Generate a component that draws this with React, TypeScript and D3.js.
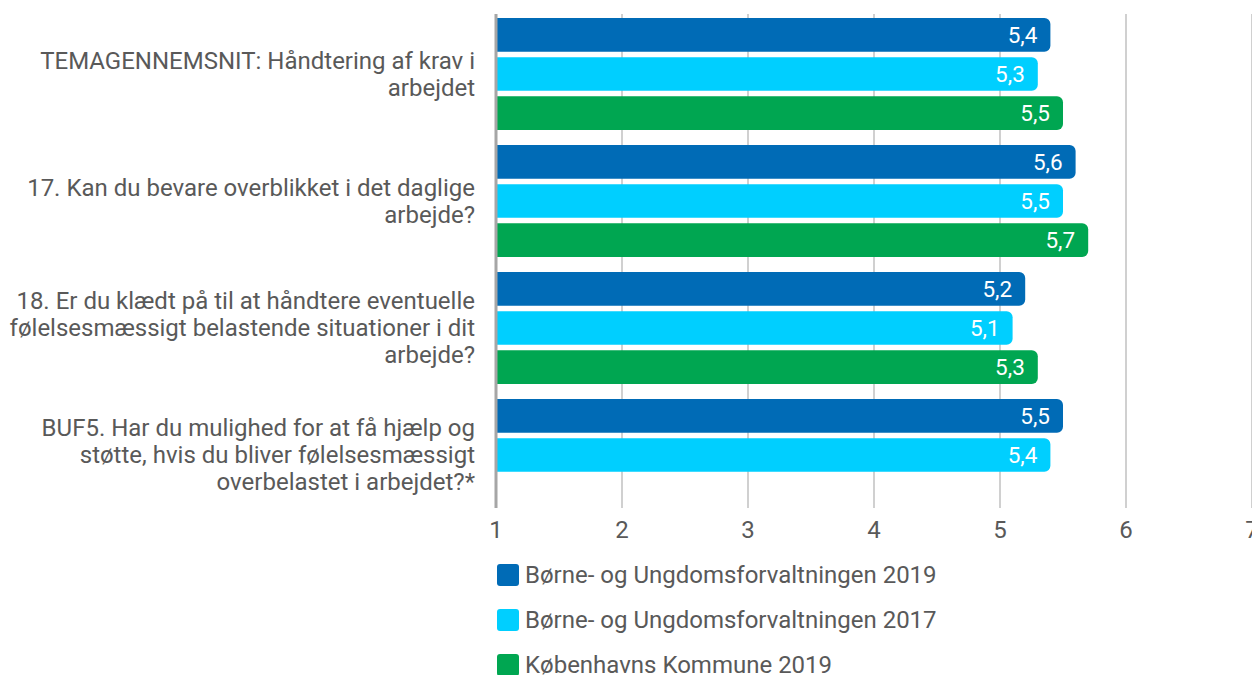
import React from 'react';
import * as d3 from 'd3';

// spørgsmål (kategorier), hver linje for sig
const questions = [
  ['TEMAGENNEMSNIT: Håndtering af krav i', 'arbejdet'],
  ['17. Kan du bevare overblikket i det daglige', 'arbejde?'],
  ['18. Er du klædt på til at håndtere eventuelle', 'følelsesmæssigt belastende situationer i dit', 'arbejde?'],
  ['BUF5. Har du mulighed for at få hjælp og', 'støtte, hvis du bliver følelsesmæssigt', 'overbelastet i arbejdet?*'],
];

const seriesNames = [
  'Børne- og Ungdomsforvaltningen 2019',
  'Børne- og Ungdomsforvaltningen 2017',
  'Københavns Kommune 2019',
];
const seriesColors = ['#006bb6', '#00cfff', '#00a651'];

const buf2019 = [5.4, 5.6, 5.2, 5.5];
const buf2017 = [5.3, 5.5, 5.1, 5.4];
const kk2019: (number | null)[] = [5.5, 5.7, 5.3, null];

const ticks = [1, 2, 3, 4, 5, 6, 7];

const W = 1252;
const H = 675;
const textColor = '#595959';
const font = 'Roboto, sans-serif';

export default function App() {
  const x = d3.scaleLinear().domain([1, 7]).range([496, 1252]);
  const groupKeys = questions.map((_, i) => String(i));
  const y = d3.scaleBand().domain(groupKeys).range([14, 522]);
  const inner = d3.scaleBand().domain(['0', '1', '2']).range([4, 116]).paddingInner(0.14);
  const values = [buf2019, buf2017, kk2019];

  const barPath = (x0: number, x1: number, y0: number, h: number, r: number) => {
    const p = d3.path();
    p.moveTo(x0, y0);
    p.lineTo(x1 - r, y0);
    p.arcTo(x1, y0, x1, y0 + r, r);
    p.lineTo(x1, y0 + h - r);
    p.arcTo(x1, y0 + h, x1 - r, y0 + h, r);
    p.lineTo(x0, y0 + h);
    p.closePath();
    return p.toString();
  };

  const gridTop = 14;
  const gridBottom = 508;
  const lineH = 27;

  return (
    <svg
      width={W}
      height={H}
      style={{ position: 'absolute', left: 0, top: 0, fontFamily: font }}
    >
      {/* gitterlinjer */}
      {ticks.slice(1).map((t) => (
        <line key={t} x1={x(t)} x2={x(t)} y1={gridTop} y2={gridBottom} stroke="#c0c0c0" strokeWidth={1.5} />
      ))}

      {/* søjler */}
      {groupKeys.map((g, gi) =>
        values.map((arr, si) => {
          const v = arr[gi];
          if (v == null) return null;
          const y0 = (y(g) as number) + (inner(String(si)) as number);
          const h = inner.bandwidth();
          const x1 = x(v);
          return (
            <g key={g + '-' + si}>
              <path d={barPath(x(1), x1, y0, h, 6)} fill={seriesColors[si]} />
              <text
                x={x1 - 13}
                y={y0 + h / 2}
                dy="0.35em"
                textAnchor="end"
                fill="#ffffff"
                fontSize={22.5}
              >
                {String(v).replace('.', ',')}
              </text>
            </g>
          );
        })
      )}

      {/* akse */}
      <line x1={x(1)} x2={x(1)} y1={gridTop} y2={gridBottom} stroke="#a6a6a6" strokeWidth={3} />

      {/* kategorietiketter */}
      {questions.map((lines, gi) => {
        const first = (y(String(gi)) as number) + inner(String(0))! ;
        const last = (y(String(gi)) as number) + inner(String(2))! + inner.bandwidth();
        const cy = (first + last) / 2;
        const start = cy - ((lines.length - 1) * lineH) / 2;
        return (
          <text key={gi} textAnchor="end" fill={textColor} fontSize={24}>
            {lines.map((l, li) => (
              <tspan key={li} x={475} y={start + li * lineH} dy="0.35em">
                {l}
              </tspan>
            ))}
          </text>
        );
      })}

      {/* x-akse etiketter */}
      {ticks.map((t) => (
        <text key={t} x={x(t)} y={530} dy="0.35em" textAnchor="middle" fill={textColor} fontSize={24}>
          {t}
        </text>
      ))}

      {/* forklaring */}
      {seriesNames.map((name, i) => {
        const cy = 575 + i * 45;
        return (
          <g key={name}>
            <rect x={497} y={cy - 11} width={22} height={22} rx={3} fill={seriesColors[i]} />
            <text x={525} y={cy} dy="0.35em" fill={textColor} fontSize={24}>
              {name}
            </text>
          </g>
        );
      })}
    </svg>
  );
}
